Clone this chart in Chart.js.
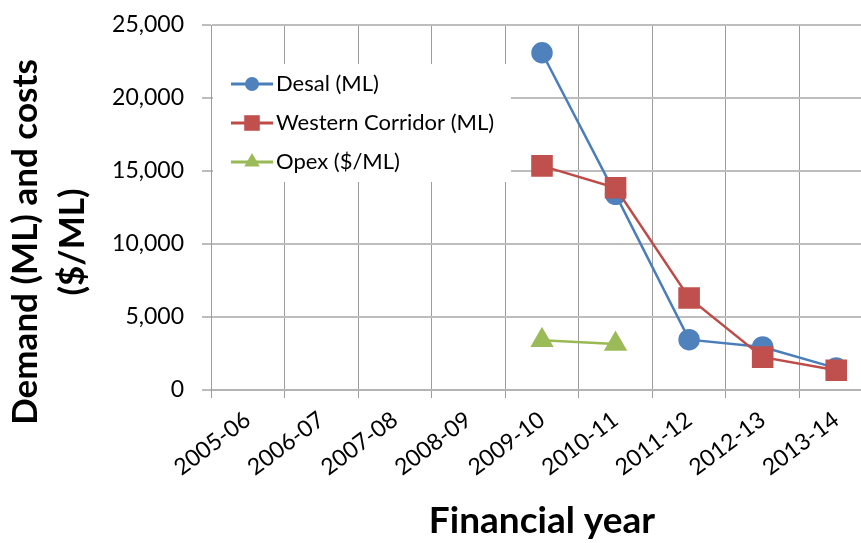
<!DOCTYPE html>
<html>
<head>
<meta charset="utf-8">
<script src="https://cdn.jsdelivr.net/npm/chart.js@4.4.1/dist/chart.umd.min.js"></script>
<style>
    html, body { margin: 0; padding: 0; background: #fff; overflow: hidden; }
    #wrap { width: 900px; height: 543px; }
</style>
</head>
<body>
<div id="wrap"><canvas id="demandChart" width="900" height="543"></canvas></div>
<script>
// data
const years = ['2005-06', '2006-07', '2007-08', '2008-09', '2009-10', '2010-11', '2011-12', '2012-13', '2013-14'];
const desal = [null, null, null, null, 23100, 13400, 3450, 2950, 1500];
const westernCorridor = [null, null, null, null, 15350, 13850, 6300, 2250, 1350];
const opex = [null, null, null, null, 3400, 3150, null, null, null];
const seriesNames = ['Desal (ML)', 'Western Corridor (ML)', 'Opex ($/ML)'];
const yMin = 0;
const yMax = 25000;
const yStep = 5000;
const yTitleLines = ['Demand (ML) and costs', '($/ML)'];
const xTitle = 'Financial year';

const FONT = 'Lato, "Open Sans", sans-serif';

// legend drawn inside the plot, on a white box over the grid
const insideLegend = {
    id: 'insideLegend',
    beforeDatasetsDraw(chart) {
        const ctx = chart.ctx;
        const area = chart.chartArea;
        const x0 = area.left + 2;
        const y0 = area.top + 39;
        const sizes = [7, 11, 9];
        ctx.save();
        ctx.fillStyle = '#fff';
        ctx.fillRect(x0, y0, 298, 118);
        chart.data.datasets.forEach(function(ds, i) {
            const y = y0 + 20 + i * 39;
            ctx.strokeStyle = ds.borderColor;
            ctx.lineWidth = 3;
            ctx.beginPath();
            ctx.moveTo(x0 + 18, y);
            ctx.lineTo(x0 + 60, y);
            ctx.stroke();
            ctx.fillStyle = ds.backgroundColor;
            Chart.helpers.drawPoint(ctx, { pointStyle: ds.pointStyle, radius: sizes[i], borderWidth: 0, rotation: 0 }, x0 + 39, y);
            ctx.fillStyle = '#000';
            ctx.font = '22px ' + FONT;
            ctx.textAlign = 'left';
            ctx.textBaseline = 'middle';
            ctx.fillText(ds.label, x0 + 63, y);
        });
        ctx.restore();
    }
};

// two-line y title, centred on the whole picture height like the original
const yTitle = {
    id: 'yTitle',
    afterDraw(chart) {
        const ctx = chart.ctx;
        ctx.save();
        ctx.translate(26, 242);
        ctx.rotate(-Math.PI / 2);
        ctx.fillStyle = '#000';
        ctx.font = 'bold 35px ' + FONT;
        ctx.textAlign = 'center';
        ctx.textBaseline = 'middle';
        yTitleLines.forEach(function(line, i) {
            ctx.fillText(line, 0, i * 47);
        });
        ctx.restore();
    }
};

const ctx = document.getElementById('demandChart');
new Chart(ctx, {
    type: 'line',
    data: {
        labels: years,
        datasets: [{
            label: seriesNames[0],
            data: desal,
            borderColor: '#4A7EBB',
            backgroundColor: '#4F81BD',
            pointBorderColor: '#4F81BD',
            pointStyle: 'circle',
            pointRadius: 9.5,
            borderWidth: 2.5,
            order: 1
        }, {
            label: seriesNames[1],
            data: westernCorridor,
            borderColor: '#BE4B48',
            backgroundColor: '#C0504D',
            pointBorderColor: '#C0504D',
            pointStyle: 'rect',
            pointRadius: 13.5,
            borderWidth: 2.5,
            order: 0
        }, {
            label: seriesNames[2],
            data: opex,
            borderColor: '#98B954',
            backgroundColor: '#9BBB59',
            pointBorderColor: '#9BBB59',
            pointStyle: 'triangle',
            pointRadius: 11,
            borderWidth: 2.5,
            order: 2
        }]
    },
    options: {
        responsive: false,
        animation: false,
        layout: {
            padding: { left: 0, top: 25, right: 27, bottom: 0 }
        },
        plugins: {
            legend: { display: false },
            tooltip: { enabled: false }
        },
        elements: {
            line: { tension: 0 },
            point: { borderWidth: 1 }
        },
        scales: {
            x: {
                offset: true,
                grid: { offset: true, color: '#9c9c9c', lineWidth: 1, tickLength: 8 },
                border: { color: '#b4b4b4', width: 2 },
                ticks: {
                    color: '#000',
                    font: { family: FONT, size: 23 },
                    minRotation: 37,
                    maxRotation: 37,
                    autoSkip: false,
                    padding: 8
                },
                title: {
                    display: true,
                    text: xTitle,
                    color: '#000',
                    font: { family: FONT, size: 37, weight: 'bold' },
                    padding: { top: 0, bottom: 0 }
                },
                afterFit: function(scale) {
                    scale.height = 153;
                    scale.paddingTop = 0;
                }
            },
            y: {
                min: yMin,
                max: yMax,
                grid: { color: '#bdbdbd', lineWidth: 2, tickLength: 9 },
                border: { color: '#9c9c9c', width: 1 },
                ticks: {
                    stepSize: yStep,
                    color: '#000',
                    font: { family: FONT, size: 23 },
                    padding: 18
                },
                afterFit: function(scale) {
                    scale.width = 211;
                    scale.paddingTop = 0;
                }
            }
        }
    },
    plugins: [insideLegend, yTitle]
});
</script>
</body>
</html>
